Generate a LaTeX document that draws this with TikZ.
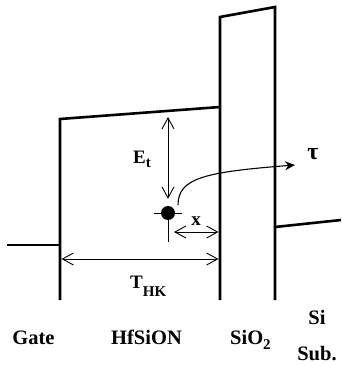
\documentclass[tikz,border=0pt]{standalone}
\usepackage{fontspec}
\setmainfont{Liberation Serif}
\usetikzlibrary{arrows.meta}
\newcommand{\lowsub}[2][6pt]{\raisebox{-#1}{\fontsize{15}{17}\selectfont #2}}

\begin{document}
\begin{tikzpicture}[x=1pt,y=-1pt,
    band/.style={line width=2.6pt,line join=miter},
    dim/.style={line width=0.9pt,{Straight Barb[length=11pt,width=12pt]}-{Straight Barb[length=11pt,width=12pt]}},
    trap/.style={circle,fill=black,minimum size=14pt,inner sep=0pt},
    lbl/.style={font=\bfseries\fontsize{19}{21}\selectfont,inner sep=0pt},
    layer/.style={font=\bfseries\fontsize{20.5}{23}\selectfont,inner sep=0pt,anchor=base}
]
\useasboundingbox (0,0) rectangle (341,366);

% band edges
\draw[band] (7,245) -- (60,245);
\draw[band] (60,300) -- (60,119) -- (220,107);
\draw[band] (220,300) -- (220,17) -- (275,7) -- (275,300);
\draw[band] (275,227) -- (341,220);

% trap
\draw[line width=0.9pt] (154,213) -- (182,213);
\draw[line width=0.9pt] (168,213) -- (168,242);
\node[trap] (T) at (168,213) {};

\coordinate (EtTop)    at (168,117);
\coordinate (xL)       at (174,232);
\coordinate (xR)       at (218.5,232);
\coordinate (tL)       at (61.5,259);
\coordinate (tR)       at (218.5,259);
\coordinate (tauStart) at (178,205);
\coordinate (tauEnd)   at (295,165);

\draw[dim,shorten >=7pt] (EtTop) -- (T.north);
\draw[dim] (xL) -- (xR);
\draw[dim] (tL) -- (tR);
\draw[line width=1.1pt,-{Stealth[length=10pt,width=9pt]}] (tauStart) .. controls (178,178) and (205,172) .. (tauEnd);

% labels
\node[lbl,anchor=base west] (Et)  at (133,164) {E\lowsub[4pt]{t}};
\node[lbl,anchor=base,font=\bfseries\fontsize{24}{26}\selectfont] (tau) at (313,160) {τ};
\node[lbl,anchor=base]      (xd)  at (196,225) {x};
\node[lbl,anchor=base west] (THK) at (130,288) {T\lowsub[8pt]{HK}};

\node[layer]                  (gate) at (33.5,344) {Gate};
\node[layer]                  (hk)   at (146.5,344) {HfSiON};
\node[layer,anchor=base west] (ox)   at (230,344) {SiO\lowsub[5pt]{2}};
\node[layer]                  (si)   at (317,324) {Si};
\node[layer]                  (sub)  at (317,360) {Sub.};
\end{tikzpicture}
\end{document}
